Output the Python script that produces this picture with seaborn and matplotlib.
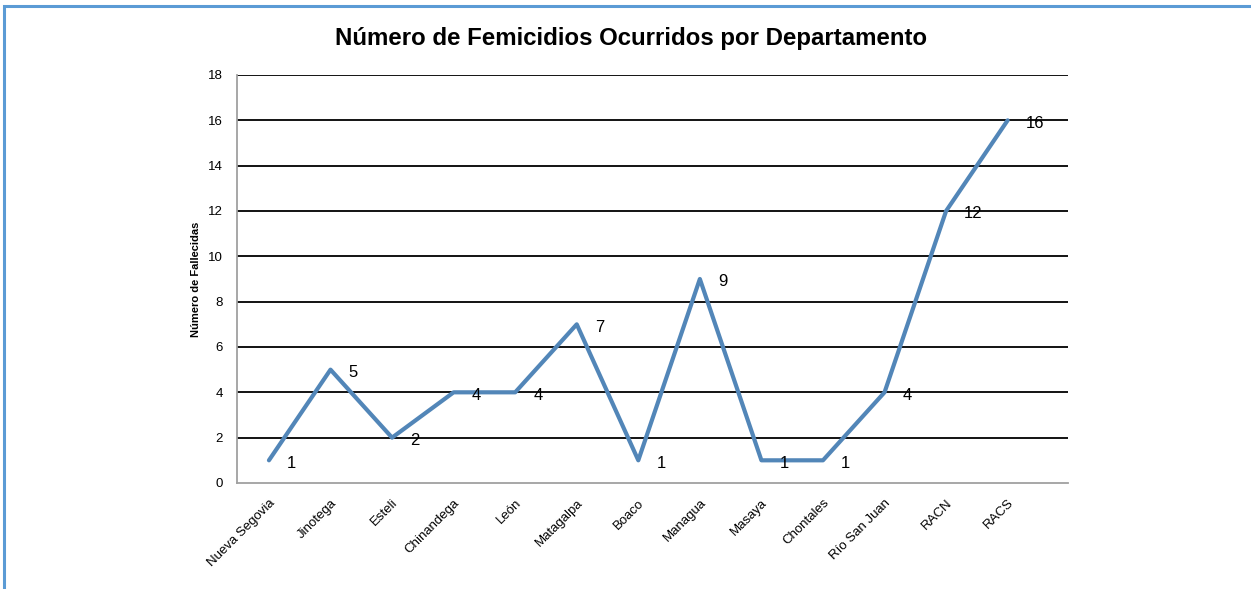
import pandas as pd
import matplotlib.pyplot as plt
import matplotlib.patches as patches
import seaborn as sns

departamentos = ["Nueva Segovia", "Jinotega", "Esteli", "Chinandega", "León", "Matagalpa",
                 "Boaco", "Managua", "Masaya", "Chontales", "Río San Juan", "RACN", "RACS"]
fallecidas = [1, 5, 2, 4, 4, 7, 1, 9, 1, 1, 4, 12, 16]
y_ticks = [0, 2, 4, 6, 8, 10, 12, 14, 16, 18]

sns.set_theme(style="white")
plt.rcParams["font.family"] = ["Liberation Sans", "DejaVu Sans"]
plt.rcParams["text.color"] = "black"
plt.rcParams["axes.labelcolor"] = "black"
plt.rcParams["xtick.color"] = "black"
plt.rcParams["ytick.color"] = "black"

df = pd.DataFrame({"Departamento": departamentos, "Fallecidas": fallecidas})

fig = plt.figure(figsize=(12.51, 5.89), dpi=100)
ax = fig.add_axes([0.1894, 0.18, 0.6643, 0.6927])

for t in y_ticks[1:]:
    ax.axhline(t, color="black", lw=1.3, zorder=1)

sns.lineplot(data=df, x="Departamento", y="Fallecidas", sort=False, color="#5286B8",
             lw=3, ax=ax, zorder=3)

for i, v in enumerate(fallecidas):
    ax.annotate(str(v), (i, v), xytext=(13, -2), textcoords="offset points",
                ha="left", va="center", fontsize=12, color="black", zorder=4)

ax.set_xlim(-0.52, 12.98)
ax.set_ylim(0, 18)
ax.set_yticks(y_ticks)
ax.set_yticklabels([str(t) for t in y_ticks], fontsize=9.5)
ax.set_xticks(range(len(departamentos)))
ax.set_xticklabels(departamentos, rotation=45, ha="right", rotation_mode="anchor", fontsize=9.5)
ax.tick_params(axis="both", length=0)
ax.tick_params(axis="y", pad=10)
ax.tick_params(axis="x", pad=10)
ax.set_xlabel("")
ax.set_ylabel("Número de Fallecidas", fontsize=8, fontweight="bold", labelpad=5)
for s in ["top", "right"]:
    ax.spines[s].set_visible(False)
for s in ["left", "bottom"]:
    ax.spines[s].set_color("#a0a0a0")
    ax.spines[s].set_linewidth(1.3)

fig.text(0.5044, 0.935, "Número de Femicidios Ocurridos por Departamento", ha="center", va="center",
         fontsize=17.3, fontweight="bold")

# marco azul del grafico
fig.patches.append(patches.Rectangle((0.0035, -0.05), 1.1, 1.0404, transform=fig.transFigure,
                                     fill=False, edgecolor="#5B9BD5", lw=2.2))

fig.savefig("out.png", dpi=100)
